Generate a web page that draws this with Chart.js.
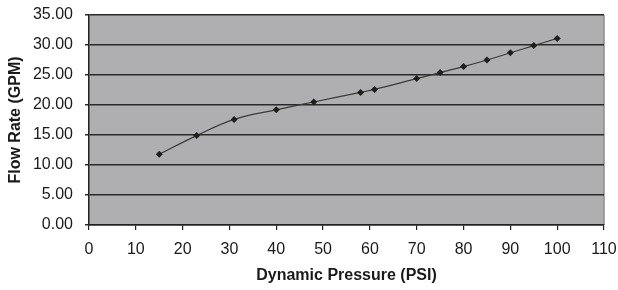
<!DOCTYPE html>
<html>
<head>
<meta charset="utf-8">
<script src="https://cdn.jsdelivr.net/npm/chart.js@4"></script>
<style>
  html, body { margin: 0; padding: 0; background: #fff; }
  #wrap { width: 618px; height: 290px; }
</style>
</head>
<body>
<div id="wrap"><canvas id="flow-chart" width="618" height="290"></canvas></div>
<script>
// pressure (PSI) vs flow (GPM)
const pressure = [15, 23, 31, 40, 48, 58, 61, 70, 75, 80, 85, 90, 95, 100];
const flow = [11.8, 14.9, 17.6, 19.2, 20.5, 22.1, 22.6, 24.4, 25.4, 26.4, 27.5, 28.7, 29.9, 31.1];
const xTicks = [0, 10, 20, 30, 40, 50, 60, 70, 80, 90, 100, 110];
const yTicks = [0, 5, 10, 15, 20, 25, 30, 35];

const FONT = 'Liberation Sans, Arial, sans-serif';

// grey plot panel + light right border like the old Excel chart
const plotBg = {
  id: 'plotBg',
  beforeDraw(chart) {
    const { ctx, chartArea: a } = chart;
    ctx.save();
    ctx.fillStyle = '#afafb1';
    ctx.fillRect(a.left, a.top, a.right - a.left, a.bottom - a.top);
    ctx.strokeStyle = '#8c8c8c';
    ctx.lineWidth = 1.5;
    ctx.beginPath();
    ctx.moveTo(a.right, a.top);
    ctx.lineTo(a.right, a.bottom);
    ctx.stroke();
    ctx.restore();
  }
};

new Chart(document.getElementById('flow-chart'), {
  type: 'scatter',
  data: {
    datasets: [{
      data: pressure.map((p, i) => ({ x: p, y: flow[i] })),
      showLine: true,
      tension: 0.4,
      borderColor: '#3a3a3a',
      borderWidth: 1.2,
      pointStyle: 'rectRot',
      pointRadius: 3.5,
      pointBackgroundColor: '#1e1e1e',
      pointBorderColor: '#1e1e1e',
      pointBorderWidth: 0
    }]
  },
  options: {
    responsive: false,
    animation: false,
    layout: { padding: { top: 15, right: 14, bottom: 0, left: 0 } },
    plugins: { legend: { display: false }, tooltip: { enabled: false } },
    scales: {
      x: {
        type: 'linear',
        min: 0, max: 110,
        afterBuildTicks: s => { s.ticks = xTicks.map(v => ({ value: v })); },
        afterFit: s => { s.height = 65; s.paddingLeft = 0; s.paddingRight = 0; },
        border: { color: '#222', width: 1.5 },
        grid: { drawOnChartArea: false, drawTicks: true, tickLength: 5, color: '#222', lineWidth: 1.2 },
        ticks: { color: '#1a1a1a', padding: 10, maxRotation: 0, font: { family: FONT, size: 16 } },
        title: {
          display: true, text: 'Dynamic Pressure (PSI)', color: '#1a1a1a',
          padding: { top: 0, bottom: 5 },
          font: { family: FONT, size: 16, weight: 'bold' }
        }
      },
      y: {
        min: 0, max: 35,
        afterBuildTicks: s => { s.ticks = yTicks.map(v => ({ value: v })); },
        afterFit: s => { s.width = 89; s.paddingTop = 0; s.paddingBottom = 0; },
        border: { color: '#222', width: 1.5 },
        grid: { color: '#2a2a2a', lineWidth: 1.5, tickLength: 4 },
        ticks: {
          color: '#1a1a1a', padding: 12,
          font: { family: FONT, size: 16 },
          callback: v => v.toFixed(2)
        },
        title: {
          display: true, text: 'Flow Rate (GPM)', color: '#1a1a1a',
          padding: { top: 6, bottom: 0 },
          font: { family: FONT, size: 16, weight: 'bold' }
        }
      }
    }
  },
  plugins: [plotBg]
});
</script>
</body>
</html>
